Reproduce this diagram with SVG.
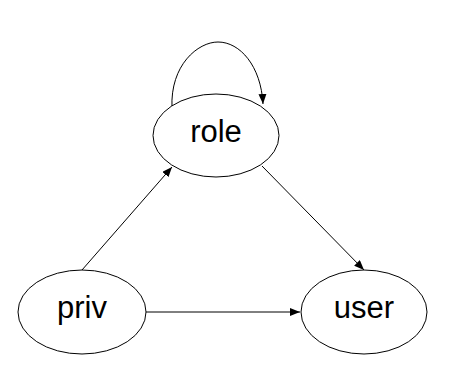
<svg xmlns="http://www.w3.org/2000/svg" width="454" height="374" viewBox="0 0 454 374">
<style>
.n{fill:#fff;stroke:#000;stroke-width:1}
.t{font-family:"Liberation Sans",Arial,sans-serif;font-size:31px;fill:#000;text-anchor:middle}
.e{fill:none;stroke:#000;stroke-width:1}
</style>
<defs>
<marker id="a" viewBox="0 0 10 8" refX="10" refY="4" markerWidth="10" markerHeight="8" markerUnits="userSpaceOnUse" orient="auto">
<path d="M0,0 L10,4 L0,8 Z" fill="#000"/>
</marker>
</defs>
<rect width="454" height="374" fill="#fff"/>
<g id="edges">
<path class="e" d="M172,108 C170,65 198,42 218,42 C240,42 261,66 263,104" marker-end="url(#a)"/>
<line class="e" x1="82" y1="270" x2="172" y2="167" marker-end="url(#a)"/>
<line class="e" x1="262" y1="166" x2="364" y2="270" marker-end="url(#a)"/>
<line class="e" x1="146" y1="312" x2="300" y2="312" marker-end="url(#a)"/>
</g>
<g id="role">
<ellipse class="n" cx="216" cy="135.5" rx="63" ry="41.5"/>
<text class="t" x="216" y="142">role</text>
</g>
<g id="priv">
<ellipse class="n" cx="82" cy="312" rx="64" ry="42"/>
<text class="t" x="82" y="318">priv</text>
</g>
<g id="user">
<ellipse class="n" cx="364" cy="312" rx="63" ry="42"/>
<text class="t" x="364" y="318">user</text>
</g>
</svg>
